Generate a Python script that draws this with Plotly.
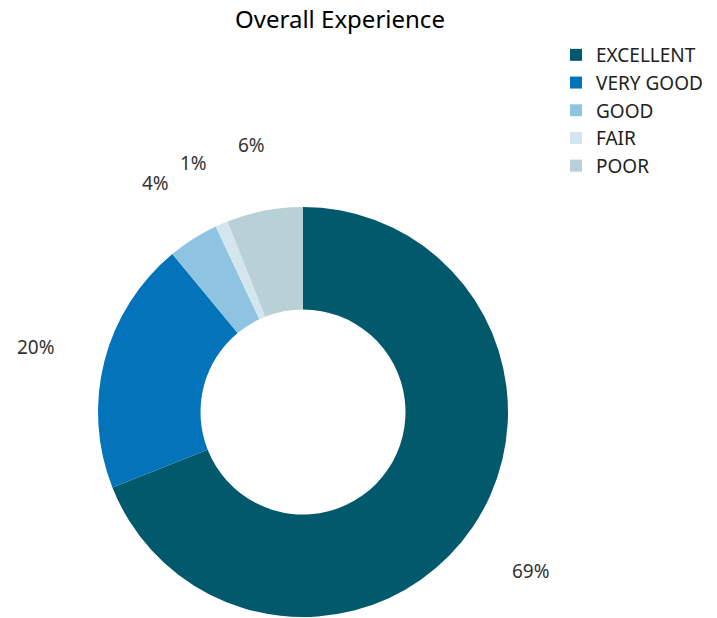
import numpy as np
import plotly.graph_objects as go

categories = ["EXCELLENT", "VERY GOOD", "GOOD", "FAIR", "POOR"]
values = [69, 20, 4, 1, 6]
colors = ["#03596c", "#0474ba", "#8ec4e1", "#d3e5ed", "#b9d0d6"]
title_text = "Overall Experience"

W, H = 717, 618
cx_px, cy_px, R = 303, 412, 205  # pie center (px from top-left) and radius
dom_x = [(cx_px - R) / W, (cx_px + R) / W]
dom_y = [(H - cy_px - R) / H, (H - cy_px + R) / H]

fig = go.Figure(go.Pie(
    labels=categories, values=values, sort=False, direction="clockwise",
    rotation=0, hole=0.5, textinfo="none", hoverinfo="label+percent",
    marker=dict(colors=colors, line=dict(width=0)),
    domain=dict(x=dom_x, y=dom_y),
))

# outside percentage labels placed along each slice's mid-angle
total = sum(values)
cum = np.cumsum([0] + values[:-1])
label_r = 1.345 * R
annotations = []
for v, c in zip(values, cum):
    theta = 2 * np.pi * (c + v / 2) / total
    px = cx_px + label_r * np.sin(theta)
    py = cy_px - label_r * np.cos(theta)
    annotations.append(dict(
        x=px / W, y=1 - py / H, xref="paper", yref="paper",
        xanchor="center", yanchor="middle", yshift=-4,
        text=f"{round(100 * v / total)}%", showarrow=False,
        font=dict(size=19, color="#333333"),
    ))

fig.update_layout(
    width=W, height=H,
    margin=dict(l=0, r=0, t=0, b=0),
    paper_bgcolor="white", plot_bgcolor="white",
    font=dict(family="Noto Sans", color="#222222"),
    title=dict(text=title_text, x=340 / W, xanchor="center", y=1 - 20 / H,
               yanchor="middle", font=dict(size=24, color="#000000")),
    legend=dict(x=556 / W, y=1 - 36 / H, xanchor="left", yanchor="top",
                font=dict(size=19, color="#222222"), itemwidth=30),
    annotations=annotations,
)
fig.write_html("out.html")
